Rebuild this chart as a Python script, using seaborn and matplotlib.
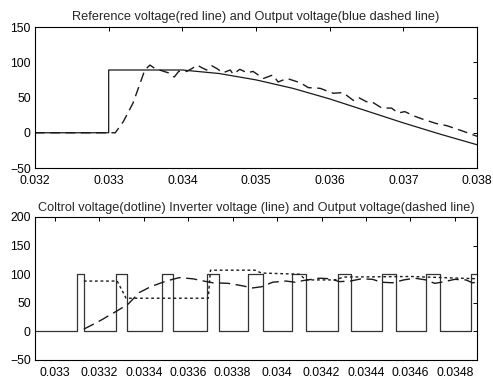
import matplotlib
matplotlib.use("Agg")
import matplotlib.pyplot as plt
import seaborn as sns
import pandas as pd

# ---------------- data: top panel ----------------
top_title = "Reference voltage(red line) and Output voltage(blue dashed line)"
ref_t = [0.0320, 0.0330, 0.0330, 0.0340, 0.0345, 0.0350, 0.0355, 0.0360,
         0.0365, 0.0370, 0.0375, 0.0380]
ref_v = [0, 0, 89, 89, 84, 75, 63, 48, 31, 14, -2, -17]

out_t = [0.0320, 0.03309, 0.03320, 0.03333, 0.03345, 0.03349, 0.03356, 0.03363,
         0.03372, 0.03381, 0.03389, 0.03395, 0.03406, 0.03413, 0.03420, 0.03427,
         0.03433, 0.03440, 0.03447, 0.03455, 0.03465, 0.03469, 0.03478, 0.03488,
         0.03496, 0.03510, 0.03523, 0.03530, 0.03542, 0.03560, 0.03571, 0.03587,
         0.03605, 0.03618, 0.03632, 0.03639, 0.03650, 0.03657, 0.03671, 0.03684,
         0.03693, 0.03702, 0.03714, 0.03727, 0.03745, 0.03759, 0.03779, 0.03800]
out_v = [0, 0, 16, 42, 77, 89, 96, 91,
         88, 85, 79, 87, 87, 91, 96, 92,
         89, 95, 91, 85, 89, 83, 90, 85,
         87, 77, 82, 72, 77, 71, 64, 63,
         56, 57, 46, 50, 44, 44, 35, 35,
         28, 30, 24, 19, 13, 10, 3, -5]

top_xticks = [0.032, 0.033, 0.034, 0.035, 0.036, 0.037, 0.038]
top_xlabels = ["0.032", "0.033", "0.034", "0.035", "0.036", "0.037", "0.038"]
top_yticks = [-50, 0, 50, 100, 150]

# ---------------- data: bottom panel ----------------
bot_title = "Coltrol voltage(dotline) Inverter voltage (line) and Output voltage(dashed line)"
pulse_rise = [0.03310, 0.033275, 0.033483, 0.033683, 0.033868, 0.034066,
              0.034272, 0.034472, 0.034671, 0.034873]
pulse_fall = [0.03313, 0.033326, 0.033530, 0.033740, 0.033936, 0.034130,
              0.034332, 0.034536, 0.034734, 0.034935]
pulse_high = 100
inv_start = 0.03291
inv_end = 0.03495

ctrl_t = [0.03313, 0.03328, 0.03332, 0.03369, 0.03370, 0.03390, 0.03393,
          0.03410, 0.03413, 0.03426, 0.03430, 0.03460, 0.03490]
ctrl_v = [88, 88, 58, 58, 107, 107, 102, 100, 90, 90, 95, 96, 92]

vo_t = [0.03313, 0.03320, 0.03328, 0.03333, 0.03338, 0.03343, 0.03350, 0.03356,
        0.03362, 0.03367, 0.03371, 0.03378, 0.03384, 0.03389, 0.03393, 0.03398,
        0.03404, 0.03408, 0.03412, 0.03419, 0.03424, 0.03428, 0.03433, 0.03438,
        0.03443, 0.03447, 0.03452, 0.03457, 0.03462, 0.03467, 0.03471, 0.03474,
        0.03480, 0.03485, 0.03488, 0.03490]
vo_v = [4, 18, 36, 48, 68, 78, 88, 94,
        92, 88, 85, 84, 80, 76, 78, 86,
        88, 86, 89, 93, 92, 87, 88, 92,
        91, 86, 85, 90, 93, 90, 84, 86,
        91, 90, 85, 86]

bot_xticks = [0.0330, 0.0332, 0.0334, 0.0336, 0.0338, 0.0340, 0.0342, 0.0344,
              0.0346, 0.0348]
bot_xlabels = ["0.033", "0.0332", "0.0334", "0.0336", "0.0338", "0.034",
               "0.0342", "0.0344", "0.0346", "0.0348"]
bot_yticks = [-50, 0, 50, 100, 150, 200]

# ---------------- build ----------------
sns.set_style("white")
plt.rcParams["font.family"] = ["Liberation Sans", "DejaVu Sans"]

fig = plt.figure(figsize=(4.93, 3.80), dpi=100)
ax1 = fig.add_axes([35 / 493, 1 - 168 / 380, 442 / 493, 141 / 380])
ax2 = fig.add_axes([35 / 493, 1 - 360 / 380, 442 / 493, 143 / 380])

line_col = "#1a1a1a"

df_ref = pd.DataFrame({"t": ref_t, "v": ref_v})
df_out = pd.DataFrame({"t": out_t, "v": out_v})
sns.lineplot(data=df_ref, x="t", y="v", ax=ax1, sort=False, estimator=None,
             color=line_col, lw=0.9)
sns.lineplot(data=df_out, x="t", y="v", ax=ax1, sort=False, estimator=None,
             color=line_col, lw=1.0, linestyle=(0, (7, 4)))

# inverter step waveform from pulse edges
inv_t = [inv_start]
inv_v = [0]
for r, f in zip(pulse_rise, pulse_fall):
    inv_t += [r, r, f, f]
    inv_v += [0, pulse_high, pulse_high, 0]
inv_t.append(inv_end)
inv_v.append(0)
df_inv = pd.DataFrame({"t": inv_t, "v": inv_v})
df_ctrl = pd.DataFrame({"t": ctrl_t, "v": ctrl_v})
df_vo = pd.DataFrame({"t": vo_t, "v": vo_v})
sns.lineplot(data=df_inv, x="t", y="v", ax=ax2, sort=False, estimator=None,
             color="#333333", lw=0.9)
sns.lineplot(data=df_ctrl, x="t", y="v", ax=ax2, sort=False, estimator=None,
             color=line_col, lw=1.0, linestyle=(0, (2, 2)))
sns.lineplot(data=df_vo, x="t", y="v", ax=ax2, sort=False, estimator=None,
             color=line_col, lw=1.0, linestyle=(0, (8, 4)))

for ax in (ax1, ax2):
    ax.set_xlabel("")
    ax.set_ylabel("")
    for s in ax.spines.values():
        s.set_visible(True)
        s.set_color("black")
        s.set_linewidth(0.8)
    ax.tick_params(direction="in", top=True, right=True, length=3,
                   width=0.7, labelsize=8.8, colors="black")
    ax.tick_params(axis="x", pad=5)
    ax.tick_params(axis="y", pad=3)

ax1.set_xlim(0.032, 0.038)
ax1.set_ylim(-50, 150)
ax1.set_xticks(top_xticks)
ax1.set_xticklabels(top_xlabels)
ax1.set_yticks(top_yticks)
ax1.set_title(top_title, fontsize=9.2, pad=5)

ax2.set_xlim(0.03291, 0.0349)
ax2.set_ylim(-50, 200)
ax2.set_xticks(bot_xticks)
ax2.set_xticklabels(bot_xlabels)
ax2.set_yticks(bot_yticks)
ax2.set_title(bot_title, fontsize=9.2, pad=4)

fig.savefig("out.png", dpi=100, facecolor="white")
